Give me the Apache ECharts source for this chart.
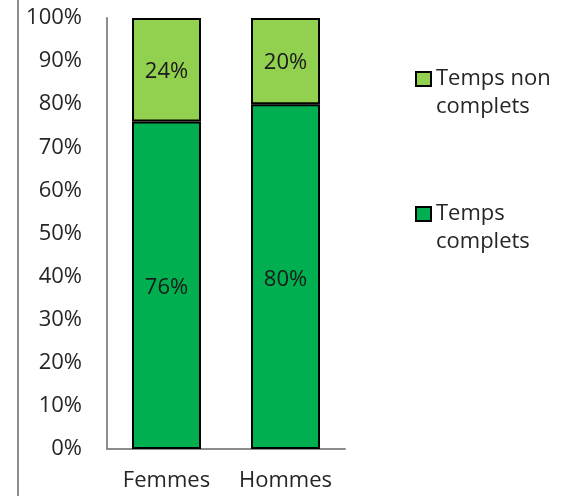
<!DOCTYPE html>
<html><head><meta charset="utf-8">
<script src="https://cdn.jsdelivr.net/npm/echarts@6/dist/echarts.min.js"></script>
<style>html,body{margin:0;padding:0;background:#fff}#c{width:561px;height:496px}</style>
</head><body><div id="c"></div>
<script>
const categories = ['Femmes', 'Hommes'];
const tempsComplets = [76, 80];
const tempsNonComplets = [24, 20];
const yTicks = [0, 10, 20, 30, 40, 50, 60, 70, 80, 90, 100];

const FONT = '"Open Sans", Lato, sans-serif';
const FS = 22;
const chart = echarts.init(document.getElementById('c'));
const legendText = { color: '#262626', fontSize: FS, fontFamily: FONT, lineHeight: 28 };
chart.setOption({
  animation: false,
  backgroundColor: '#fff',
  grid: { left: 107, top: 18, width: 238, bottom: 47, containLabel: false },
  xAxis: {
    type: 'category', data: categories,
    axisLine: { lineStyle: { color: '#8c8c8c', width: 2 } },
    axisTick: { show: false },
    axisLabel: { color: '#262626', fontSize: FS, fontFamily: FONT, margin: 21, interval: 0, hideOverlap: false }
  },
  yAxis: {
    type: 'value', min: yTicks[0], max: yTicks[yTicks.length - 1], interval: 10,
    axisLine: { show: true, lineStyle: { color: '#8c8c8c', width: 2 } },
    axisTick: { show: false },
    splitLine: { show: false },
    axisLabel: { color: '#262626', fontSize: FS, fontFamily: FONT, margin: 25, formatter: v => v + '%' }
  },
  legend: [
    { data: ['Temps non complets'], orient: 'vertical', left: 415, top: 37, padding: 0, icon: 'rect',
      itemWidth: 15, itemHeight: 14,
      itemStyle: { borderColor: '#000', borderWidth: 2 },
      formatter: () => ' \nTemps non\ncomplets',
      textStyle: legendText },
    { data: ['Temps complets'], orient: 'vertical', left: 415, top: 172, padding: 0, icon: 'rect',
      itemWidth: 15, itemHeight: 14,
      itemStyle: { borderColor: '#000', borderWidth: 2 },
      formatter: () => ' \nTemps\ncomplets',
      textStyle: legendText }
  ],
  series: [
    { name: 'Temps complets', type: 'bar', stack: 's', data: tempsComplets, barWidth: 69,
      itemStyle: { color: '#00B050', borderColor: '#000', borderWidth: 2 },
      label: { show: true, position: 'inside', offset: [0, 3], formatter: p => p.value + '%', color: '#1a1a1a', fontSize: FS, fontFamily: FONT } },
    { name: 'Temps non complets', type: 'bar', stack: 's', data: tempsNonComplets, barWidth: 69,
      itemStyle: { color: '#92D050', borderColor: '#000', borderWidth: 2 },
      label: { show: true, position: 'inside', offset: [0, 2], formatter: p => p.value + '%', color: '#1a1a1a', fontSize: FS, fontFamily: FONT } }
  ],
  graphic: [
    { type: 'line', shape: { x1: 18, y1: 0, x2: 18, y2: 496 }, style: { stroke: '#8c8c8c', lineWidth: 2 } }
  ]
});
</script></body></html>
